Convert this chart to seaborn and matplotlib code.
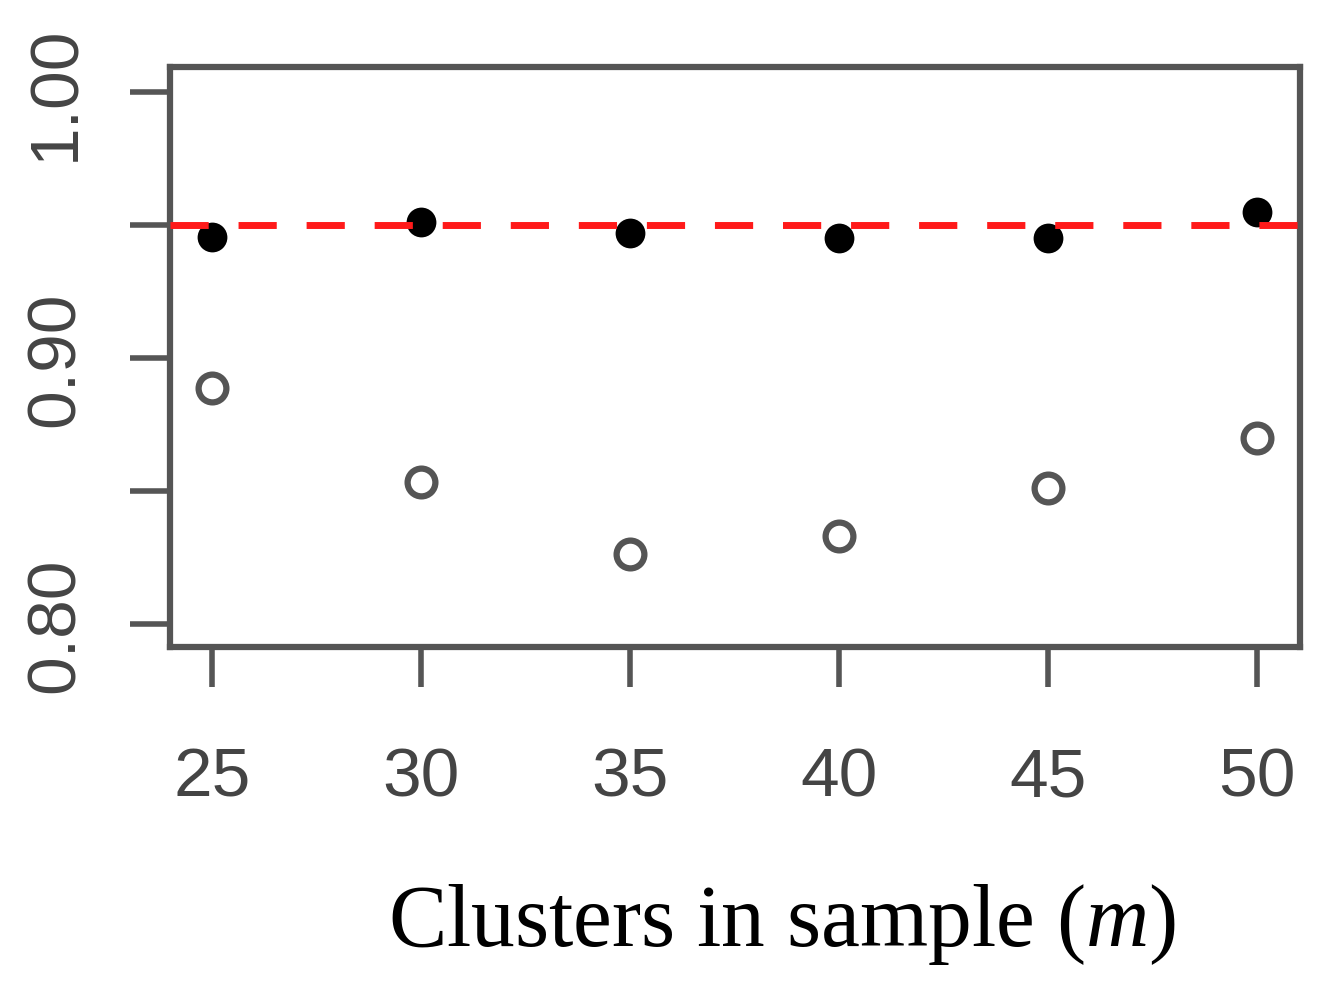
import pandas as pd
import matplotlib
matplotlib.use("Agg")
import matplotlib.pyplot as plt
import seaborn as sns

# data
clusters = [25, 30, 35, 40, 45, 50]
coverage_filled = [0.9455, 0.951, 0.947, 0.945, 0.945, 0.955]
coverage_open = [0.8887, 0.8534, 0.8262, 0.833, 0.851, 0.8698]
nominal = 0.95

y_ticks = [0.80, 0.85, 0.90, 0.95, 1.00]
y_tick_labels = ["0.80", "", "0.90", "", "1.00"]

sns.set_theme(style="white")
plt.rcParams['font.family'] = ['Liberation Sans', 'DejaVu Sans']
plt.rcParams['mathtext.fontset'] = 'custom'
plt.rcParams['mathtext.it'] = 'Liberation Serif:italic'
plt.rcParams['mathtext.rm'] = 'Liberation Serif'

df = pd.DataFrame({"m": clusters, "filled": coverage_filled, "open": coverage_open})

fig = plt.figure(figsize=(13.32, 10.03), dpi=100)
ax = fig.add_axes([0.1276, 0.354, 0.8484, 0.578])

sns.scatterplot(data=df, x="m", y="open", ax=ax, s=400, marker="o",
                facecolor="white", edgecolor="#555555", linewidth=4.5, zorder=3)
sns.scatterplot(data=df, x="m", y="filled", ax=ax, s=460, marker="o",
                color="black", edgecolor="black", linewidth=0, zorder=3)
ax.axhline(nominal, color="#ff1a1a", linewidth=5, linestyle=(0, (5.5, 4.3)), zorder=4)

ax.set_xlim(24.0, 51.03)
ax.set_ylim(0.7913, 1.0094)
ax.set_xticks(clusters)
ax.set_xticklabels([str(c) for c in clusters])
ax.set_yticks(y_ticks)
ax.set_yticklabels(y_tick_labels, rotation=90, va="center")

for sp in ax.spines.values():
    sp.set_color("#555555")
    sp.set_linewidth(4.5)

ax.tick_params(axis="both", direction="out", length=29, width=4, color="#555555",
               labelsize=50, labelcolor="#444444", bottom=True, left=True)
ax.tick_params(axis="x", pad=42)
ax.tick_params(axis="y", pad=30)

ax.set_ylabel("")
ax.set_xlabel("Clusters in sample ($\\mathit{m}$)", family="Liberation Serif",
              fontsize=63, color="black")
ax.xaxis.set_label_coords(0.5416, -0.4776)
ax.xaxis.label.set_va("center")

fig.savefig("out.png", dpi=100)
